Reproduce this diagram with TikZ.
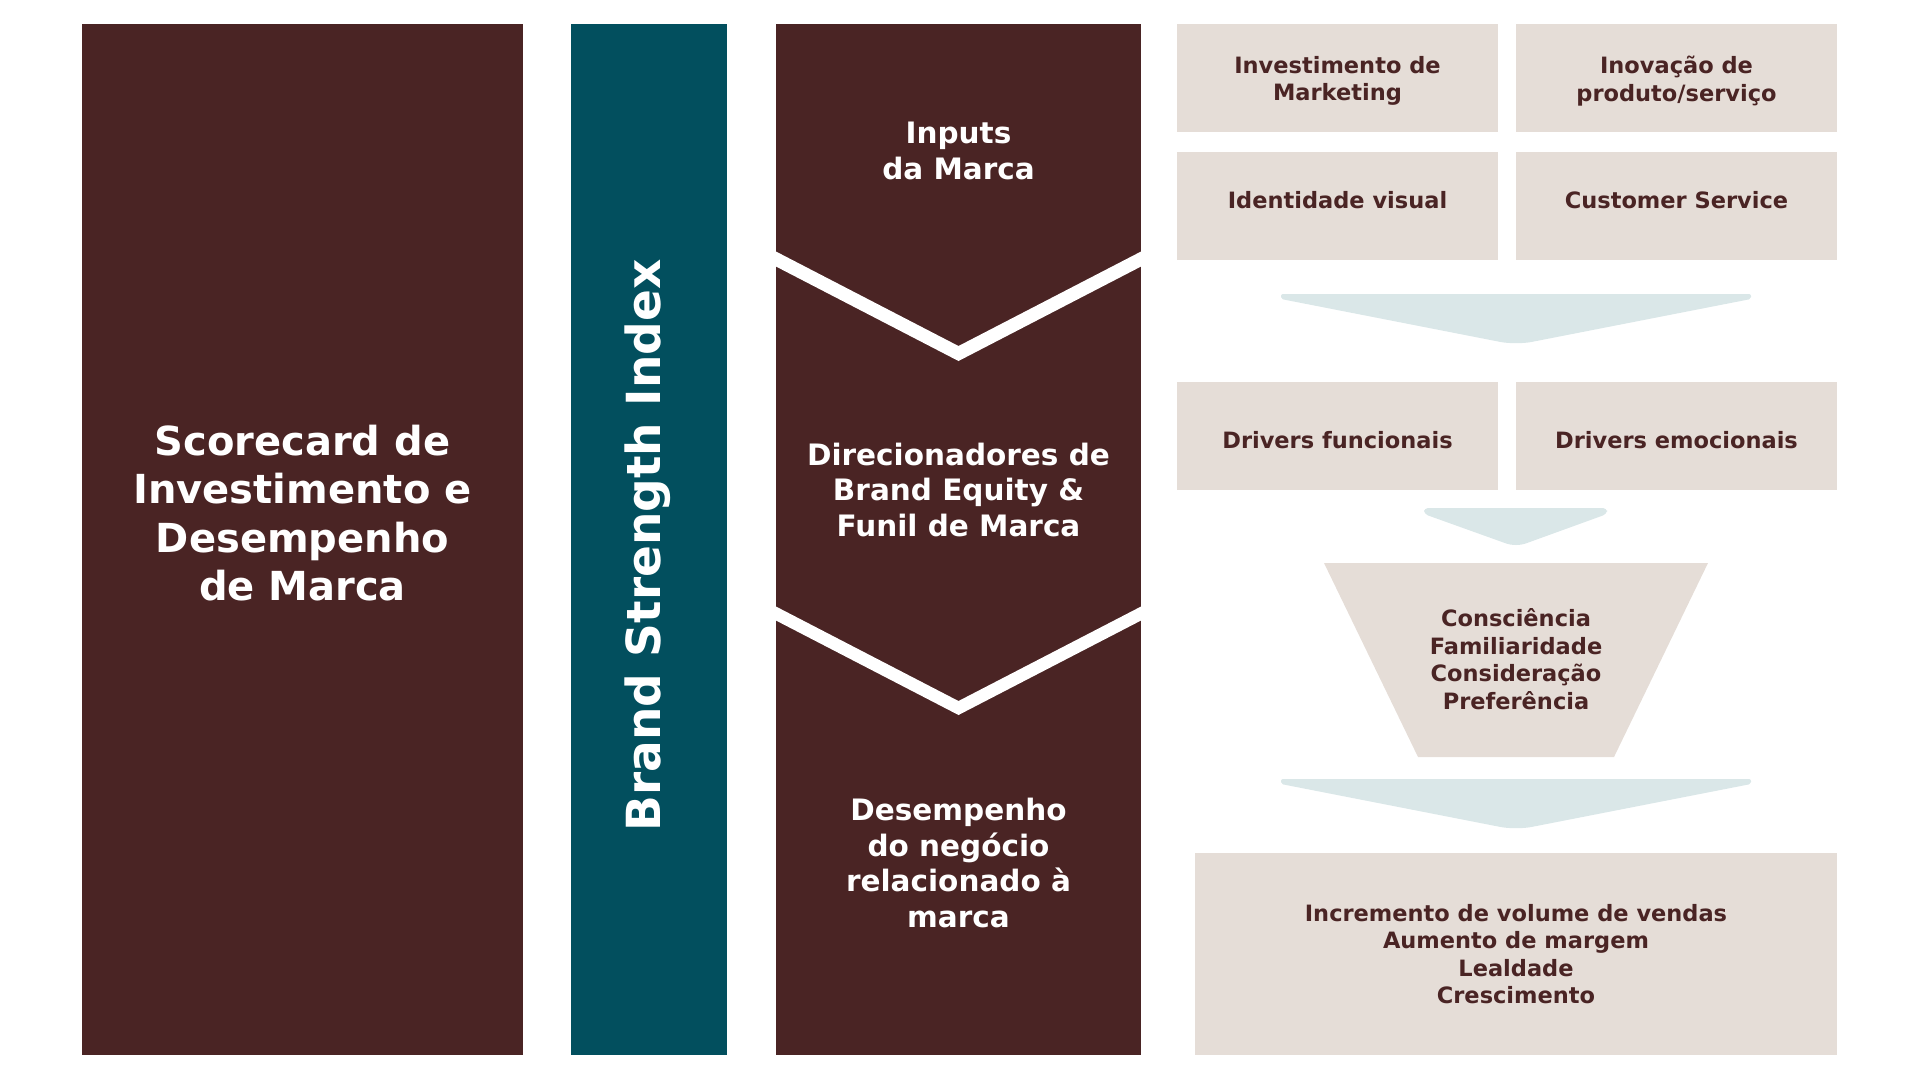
\documentclass[tikz,border=0pt]{standalone}
\usepackage{fontspec}
\setmainfont{DejaVu Sans}
\definecolor{marrom}{HTML}{4A2424}
\definecolor{petroleo}{HTML}{024F5E}
\definecolor{areia}{HTML}{E5DDD7}
\definecolor{gelo}{HTML}{DAE7E8}

\begin{document}
\begin{tikzpicture}[
        x=1pt, y=-1pt,
        every node/.style={inner sep=0pt, outer sep=0pt},
        coluna/.style={fill=marrom, minimum height=1031pt},
        caixa/.style={fill=areia, minimum width=321pt, minimum height=108pt},
        txtclaro/.style={text=white, align=center},
        txtescuro/.style={text=marrom, align=center, font=\bfseries\fontsize{22.5}{27.5}\selectfont}
    ]
        \useasboundingbox (0,0) rectangle (1920,1080);

        % --- COLUNAS DA ESQUERDA ---
        \node[coluna, minimum width=441pt] (score) at (302.5,539.5) {};
        \node[coluna, fill=petroleo, minimum width=156pt] (bsi) at (649,539.5) {};
        \node[coluna, minimum width=365pt] (etapas) at (958.5,539.5) {};

        % Faixas brancas em chevron que separam as tres etapas
        \foreach \yb/\e in {251/15, 606/14} {
            \fill[white] (775,\yb) -- (958.5,{\yb+95}) -- (1142,\yb)
                -- (1142,{\yb+\e}) -- (958.5,{\yb+95+\e}) -- (775,{\yb+\e}) -- cycle;
        }

        \node[txtclaro, font=\bfseries\fontsize{40}{48.5}\selectfont] (scoretxt) at (302.5,513)
            {Scorecard de\\Investimento e\\Desempenho\\de Marca};
        \node[txtclaro, rotate=90, font=\bfseries\fontsize{47}{56}\selectfont] (bsitxt) at (648,545.5)
            {Brand Strength Index};
        \node[txtclaro, font=\bfseries\fontsize{29.5}{35.5}\selectfont] (inputs) at (958.5,151)
            {Inputs\\da Marca};
        \node[txtclaro, font=\bfseries\fontsize{29.5}{35.5}\selectfont] (direc) at (958.5,489.5)
            {Direcionadores de\\Brand Equity \&\\Funil de Marca};
        \node[txtclaro, font=\bfseries\fontsize{29.5}{35.5}\selectfont] (desemp) at (958.5,863)
            {Desempenho\\do negócio\\relacionado à\\marca};

        % --- LADO DIREITO ---
        \node[caixa] (invest) at (1337.5,78) {};
        \node[caixa] (inov) at (1676.5,78) {};
        \node[caixa] (ident) at (1337.5,206) {};
        \node[caixa] (cserv) at (1676.5,206) {};
        \node[caixa] (dfunc) at (1337.5,435.5) {};
        \node[caixa] (democ) at (1676.5,435.5) {};
        \node[caixa, minimum width=642pt, minimum height=202pt] (result) at (1516,954) {};

        \node[txtescuro] (investtxt) at (1337.5,81) {Investimento de\\Marketing};
        \node[txtescuro] (inovtxt) at (1676.5,81) {Inovação de\\produto/serviço};
        \node[txtescuro] (identtxt) at (1337.5,200.5) {Identidade visual};
        \node[txtescuro] (cservtxt) at (1676.5,200.5) {Customer Service};
        \node[txtescuro] (dfunctxt) at (1337.5,440) {Drivers funcionais};
        \node[txtescuro] (democtxt) at (1676.5,440) {Drivers emocionais};

        % Setas largas
        \foreach \ya in {294,779} {
            \fill[gelo, rounded corners=2pt] (1281,\ya) -- (1751,\ya) -- (1751,{\ya+5})
                [rounded corners=16pt] -- (1516,{\ya+51}) [rounded corners=2pt] -- (1281,{\ya+5}) -- cycle;
        }
        % Seta estreita
        \fill[gelo, rounded corners=4pt] (1424,508) -- (1607,508) -- (1607,514)
            [rounded corners=10pt] -- (1516,547) [rounded corners=4pt] -- (1424,514) -- cycle;

        % Funil
        \fill[areia] (1324,563) -- (1708,563) -- (1614,757) -- (1418,757) -- cycle;
        \node[txtescuro] (funiltxt) at (1516,659)
            {Consciência\\Familiaridade\\Consideração\\Preferência};

        \node[txtescuro] (resulttxt) at (1516,954)
            {Incremento de volume de vendas\\Aumento de margem\\Lealdade\\Crescimento};
    \end{tikzpicture}
\end{document}
